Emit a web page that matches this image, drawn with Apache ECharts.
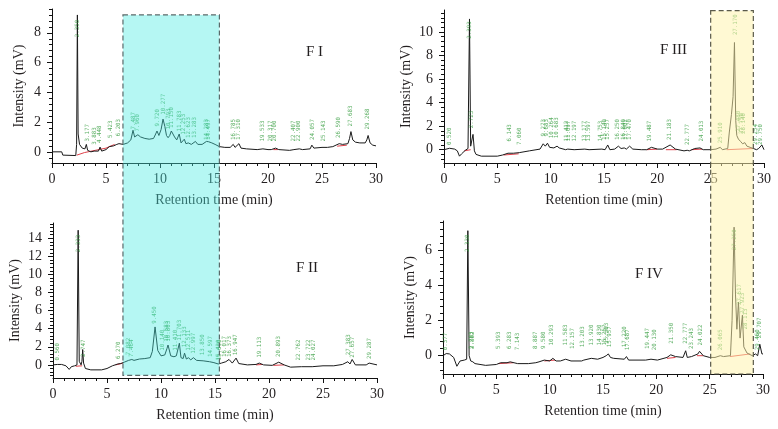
<!DOCTYPE html>
<html><head><meta charset="utf-8">
<script src="https://cdn.jsdelivr.net/npm/echarts@6/dist/echarts.min.js"></script>
<style>html,body{margin:0;padding:0;background:#fff}#c{width:778px;height:429px}</style>
</head><body><div id="c"></div><script>
// ---------------- data (retention time min, intensity mV) ----------------
const traceF1 = [[0,0],[0.9,0],[1.0,-0.22],[2.2,-0.25],[2.28,0.5],[2.35,9.2],[2.42,1.2],[2.55,0.5],[2.8,0.25],[3.05,0.2],[3.18,0.5],[3.3,0.1],[3.6,0.0],[3.9,0.05],[4.3,0.05],[4.45,0.32],[4.6,0.05],[5.0,0.15],[5.3,0.35],[5.45,0.45],[5.7,0.4],[6.0,0.5],[6.2,0.55],[6.6,0.5],[7.0,0.6],[7.3,0.8],[7.5,1.45],[7.65,1.0],[7.95,1.15],[8.2,1.0],[8.6,0.9],[9.0,0.85],[9.4,0.9],[9.6,1.2],[9.72,1.4],[9.9,1.1],[10.1,1.5],[10.28,2.2],[10.45,1.7],[10.6,1.1],[10.75,0.95],[10.9,1.1],[11.05,1.4],[11.15,1.45],[11.35,1.0],[11.55,0.8],[11.78,1.2],[11.95,0.6],[12.1,0.65],[12.25,0.85],[12.4,0.55],[12.62,0.6],[12.9,0.5],[13.28,0.7],[13.5,0.5],[13.9,0.5],[14.3,0.7],[14.5,0.68],[14.8,0.6],[15.1,0.5],[15.5,0.35],[16.0,0.3],[16.5,0.3],[16.78,0.5],[16.95,0.3],[17.1,0.3],[17.31,0.55],[17.5,0.25],[18.0,0.2],[19.0,0.15],[19.53,0.2],[20.0,0.15],[20.3,0.15],[20.7,0.25],[21.0,0.15],[22.0,0.1],[22.4,0.15],[22.9,0.2],[23.2,0.15],[23.9,0.2],[24.06,0.45],[24.25,0.25],[25.0,0.3],[25.14,0.35],[25.5,0.3],[26.0,0.35],[26.59,0.55],[26.9,0.5],[27.4,0.55],[27.55,0.9],[27.68,1.36],[27.85,0.8],[28.1,0.65],[28.5,0.6],[29.0,0.6],[29.15,0.8],[29.27,1.1],[29.45,0.6],[29.7,0.45],[30,0.4]];
const traceF2 = [[0,0],[0.4,0.05],[0.56,0.2],[0.8,0.05],[1.2,-0.1],[1.5,-0.5],[1.7,-0.2],[2.0,-0.1],[2.22,0.0],[2.33,14.9],[2.43,0.4],[2.6,0.0],[2.68,0.4],[2.75,1.7],[2.83,0.2],[3.0,-0.4],[3.5,-0.55],[4.5,-0.55],[5.0,-0.4],[5.5,-0.1],[6.0,0.1],[6.27,0.15],[6.6,0.3],[7.0,0.5],[7.3,0.6],[7.5,0.5],[8.0,0.65],[8.5,0.7],[9.0,0.8],[9.2,1.5],[9.45,4.2],[9.7,1.6],[10.0,1.0],[10.15,1.2],[10.35,1.1],[10.55,1.8],[10.65,2.2],[10.9,1.0],[11.2,0.9],[11.42,1.0],[11.6,1.2],[11.7,2.4],[11.85,0.8],[12.05,0.7],[12.18,1.3],[12.35,0.65],[12.55,0.8],[12.75,0.55],[13.0,0.8],[13.3,0.5],[13.9,0.45],[14.5,0.35],[14.9,0.25],[15.3,0.1],[15.6,0.2],[16.0,0.35],[16.3,0.6],[16.6,0.2],[16.95,0.75],[17.2,0.15],[18.0,0.0],[18.8,0.05],[19.1,0.2],[19.5,0.0],[20.3,-0.05],[20.9,0.3],[21.4,0.0],[22.0,-0.25],[23.0,-0.2],[24.0,-0.2],[25.0,-0.1],[26.0,-0.1],[26.8,0.05],[27.3,0.35],[27.5,0.1],[27.7,0.6],[28.0,0.0],[29.0,0.0],[29.27,0.2],[29.45,0.0],[30,0.0]];
const traceF3 = [[0,0],[0.52,0.12],[1.0,0.05],[1.25,-0.1],[1.45,-0.55],[1.65,-0.35],[2.0,-0.05],[2.25,0.1],[2.39,11.1],[2.5,0.3],[2.62,0.15],[2.72,1.3],[2.85,-0.1],[3.0,-0.4],[3.5,-0.55],[5.0,-0.55],[5.5,-0.45],[6.0,-0.3],[6.14,-0.2],[6.5,-0.3],[7.06,-0.25],[8.0,-0.1],[9.0,0.05],[9.3,0.5],[9.5,0.3],[9.7,0.55],[9.9,0.2],[10.3,0.15],[10.6,0.3],[10.8,0.15],[11.4,0.0],[11.6,0.05],[12.2,0.0],[13.2,0.05],[13.6,0.0],[14.8,0.05],[15.1,0.0],[15.35,0.4],[15.55,0.0],[16.0,0.05],[16.35,0.3],[16.6,0.1],[16.9,0.15],[17.1,0.05],[17.4,0.3],[17.7,0.05],[18.5,0.0],[19.0,0.0],[19.45,0.2],[20.0,0.05],[20.5,0.05],[21.2,0.4],[21.7,0.05],[22.5,-0.1],[22.8,-0.05],[23.0,-0.1],[23.5,0.1],[24.0,0.15],[24.3,0.0],[25.0,0.0],[25.5,0.05],[25.9,0.2],[26.1,0.0],[26.6,0.1],[26.75,1.5],[26.95,3.0],[27.1,4.5],[27.23,9.1],[27.35,2.5],[27.45,1.2],[27.6,0.9],[27.8,0.7],[28.0,0.5],[28.2,0.6],[28.4,0.3],[28.7,0.2],[29.0,0.1],[29.3,0.0],[29.5,0.1],[29.8,0.4],[30,0.0]];
const traceF4 = [[0,0],[0.3,0.12],[0.6,0.1],[1.0,-0.1],[1.3,-0.6],[1.6,-0.3],[2.0,-0.25],[2.22,-0.2],[2.33,7.1],[2.45,0.0],[2.6,-0.3],[2.8,-0.35],[3.0,-0.45],[4.0,-0.55],[5.0,-0.5],[5.4,-0.4],[6.0,-0.4],[6.3,-0.35],[7.0,-0.45],[7.14,-0.4],[8.0,-0.45],[8.7,-0.4],[9.0,-0.35],[9.5,-0.25],[10.0,-0.3],[10.3,-0.15],[10.6,-0.3],[11.0,-0.3],[11.5,-0.2],[12.0,-0.3],[13.0,-0.3],[13.2,-0.25],[13.9,-0.15],[14.5,-0.2],[15.0,-0.1],[15.3,0.0],[15.5,0.1],[15.7,-0.1],[16.0,-0.15],[17.0,-0.2],[17.2,-0.05],[17.4,-0.25],[18.0,-0.25],[19.0,-0.25],[19.5,-0.2],[20.1,-0.25],[21.0,-0.1],[21.35,0.05],[21.8,-0.05],[22.5,-0.1],[22.75,0.28],[22.9,-0.1],[23.3,-0.05],[23.9,0.1],[24.05,0.25],[24.4,0.0],[25.0,-0.1],[25.5,-0.1],[26.0,0.0],[26.3,-0.05],[26.95,0.0],[27.1,2.0],[27.29,7.3],[27.42,3.5],[27.55,1.5],[27.7,3.05],[27.85,1.0],[28.07,2.3],[28.2,0.5],[28.5,0.15],[29.0,0.0],[29.3,0.1],[29.5,0.0],[29.7,0.65],[29.9,0.1],[30,0.1]];

// integration baselines (red segments)
const baseF1 = [[[2.3,-0.22],[3.0,-0.05],[4.0,0.1],[5.0,0.25],[5.8,0.5]],[[20.5,0.15],[20.9,0.15]],[[26.4,0.38],[27.3,0.45]]];
const baseF2 = [[[2.1,-0.15],[2.7,-0.1]],[[5.8,0.0],[6.5,0.2]],[[18.8,0.0],[19.4,0.05]],[[20.4,-0.05],[21.4,0.0]]];
const baseF3 = [[[1.9,-0.1],[2.5,0.0]],[[5.6,-0.45],[7.0,-0.35]],[[19.0,0.0],[20.0,0.05]],[[20.8,0.0],[21.8,0.0]],[[23.2,0.0],[24.2,0.05]],[[26.5,0.0],[29.0,0.1]]];
const baseF4 = [[[5.2,-0.45],[6.6,-0.4]],[[9.5,-0.3],[10.5,-0.25]],[[21.0,-0.15],[21.8,-0.1]],[[23.8,0.0],[24.4,0.0]],[[26.9,-0.05],[28.8,0.1]]];

// peak annotations: [retention time, label base height, text]
const peaksF1 = [[2.35,7.6,'2.350'],[3.25,0.6,'3.177'],[3.9,0.38,'3.883'],[4.4,0.49,'4.448'],[5.4,0.83,'5.423'],[6.2,0.94,'6.203'],[7.5,1.4,'7.487'],[7.9,1.27,'7.960'],[9.75,1.6,'9.720'],[10.3,2.4,'10.277'],[10.75,1.4,'10.793'],[11.1,1.5,'11.150'],[11.8,1.27,'11.783'],[12.2,1.05,'12.253'],[12.6,0.83,'12.623'],[13.15,0.83,'13.283'],[14.3,0.7,'14.283'],[14.5,0.7,'14.497'],[16.8,0.7,'16.785'],[17.3,0.7,'17.310'],[19.5,0.6,'19.533'],[20.2,0.6,'20.317'],[20.6,0.6,'20.700'],[22.4,0.6,'22.407'],[22.8,0.6,'22.900'],[24.1,0.7,'24.057'],[25.1,0.6,'25.143'],[26.5,0.83,'26.590'],[27.6,1.6,'27.683'],[29.2,1.4,'29.268']];
const peaksF2 = [[0.46,0.33,'0.560'],[2.33,12.3,'2.333'],[2.8,0.7,'2.747'],[6.1,0.5,'6.270'],[7.0,0.9,'7.082'],[7.3,0.7,'7.464'],[9.4,4.4,'9.450'],[10.1,1.4,'10.140'],[10.5,2.4,'10.583'],[10.7,2.4,'10.803'],[11.35,1.4,'11.410'],[11.75,2.5,'11.703'],[12.15,1.8,'12.133'],[12.5,1.4,'12.511'],[13.0,1.07,'12.997'],[13.8,0.9,'13.850'],[14.6,0.7,'14.597'],[15.35,0.33,'15.420'],[15.45,0.33,'15.690'],[15.9,0.7,'16.017'],[16.3,0.7,'16.373'],[16.9,0.9,'16.947'],[19.1,0.63,'19.113'],[20.9,0.7,'20.893'],[22.7,0.33,'22.762'],[23.7,0.33,'23.722'],[24.1,0.33,'24.027'],[27.4,0.9,'27.383'],[27.75,0.63,'27.657'],[29.3,0.5,'29.287']];
const peaksF3 = [[0.5,0.28,'0.520'],[2.39,9.3,'2.393'],[2.6,1.7,'2.723'],[6.1,0.56,'6.143'],[7.1,0.28,'7.060'],[9.3,1.0,'9.273'],[9.6,1.0,'9.683'],[10.1,0.85,'10.264'],[10.5,0.85,'10.683'],[11.5,0.56,'11.412'],[11.7,0.56,'11.697'],[12.2,0.56,'12.197'],[13.2,0.56,'13.177'],[13.5,0.56,'13.597'],[14.7,0.56,'14.753'],[15.0,0.7,'15.140'],[15.3,0.7,'15.257'],[16.3,0.7,'16.250'],[16.8,0.7,'16.840'],[17.0,0.7,'17.002'],[17.4,0.7,'17.470'],[19.3,0.56,'19.487'],[21.1,0.7,'21.183'],[22.8,0.28,'22.777'],[24.1,0.56,'24.013'],[25.9,0.42,'25.910'],[27.3,9.6,'27.170'],[27.6,1.4,'27.480'],[27.85,1.2,'27.750'],[28.1,1.2,'28.140'],[29.2,0.28,'29.254'],[29.65,0.28,'29.750']];
const peaksF4 = [[0.2,0.23,'0.377'],[2.33,5.8,'2.330'],[2.7,0.3,'2.783'],[2.8,0.3,'2.882'],[5.2,0.3,'5.393'],[6.2,0.3,'6.283'],[7.0,0.23,'7.143'],[8.7,0.3,'8.887'],[9.4,0.3,'9.580'],[10.2,0.5,'10.293'],[11.5,0.5,'11.583'],[12.1,0.3,'12.157'],[13.1,0.4,'13.203'],[13.9,0.5,'13.920'],[14.7,0.5,'14.830'],[15.1,0.5,'15.257'],[15.3,0.6,'15.383'],[15.6,0.4,'15.957'],[17.0,0.4,'17.220'],[17.3,0.23,'17.687'],[19.2,0.3,'19.447'],[19.8,0.23,'20.130'],[21.4,0.6,'21.350'],[22.7,0.6,'22.777'],[23.3,0.3,'23.243'],[24.1,0.5,'24.022'],[26.0,0.23,'26.065'],[27.3,5.9,'27.250'],[27.8,2.8,'27.617'],[28.05,2.3,'27.923'],[28.35,1.4,'28.113'],[29.45,0.23,'29.460'],[29.7,0.9,'29.707']];

// axis tick labels
const xTicks = [0,5,10,15,20,25,30];
const yTicksF1 = [0,2,4,6,8];
const yTicksF2 = [0,2,4,6,8,10,12,14];
const yTicksF3 = [0,2,4,6,8,10];
const yTicksF4 = [0,2,4,6];

// highlighted windows (retention time ranges)
const cyanWindow = [6.57, 15.5];
const yellowWindow = [25.0, 29.0];

// ---------------- layout ----------------
const panels = [
  {label:'F I',  trace:traceF1, base:baseF1, peaks:peaksF1, yTicks:yTicksF1, yMin:-0.75, yMax:9.6,  grid:{left:52, top:9,   width:324, height:154}, nameGap:26, title:{left:306, top:45}},
  {label:'F II', trace:traceF2, base:baseF2, peaks:peaksF2, yTicks:yTicksF2, yMin:-1.45, yMax:15.7, grid:{left:53, top:223, width:324, height:155}, nameGap:31, title:{left:296, top:261}},
  {label:'F III',trace:traceF3, base:baseF3, peaks:peaksF3, yTicks:yTicksF3, yMin:-1.13, yMax:11.86,grid:{left:444,top:10,  width:320, height:153}, nameGap:31, title:{left:660, top:43}},
  {label:'F IV', trace:traceF4, base:baseF4, peaks:peaksF4, yTicks:yTicksF4, yMin:-1.04, yMax:7.65, grid:{left:443,top:221, width:320, height:153}, nameGap:26, title:{left:635, top:267}}
];
const SERIF = '"Liberation Serif","DejaVu Serif",serif';
const TXT = '#231f20';
const MINOR_STEP = 0.4;

function minorValues(lo, hi, majors) {
  const out = [];
  for (let k = Math.ceil(lo / MINOR_STEP - 1e-9); k * MINOR_STEP <= hi + 1e-9; k++) {
    const v = +(k * MINOR_STEP).toFixed(4);
    if (!majors.some(m => Math.abs(m - v) < 1e-6)) out.push(v);
  }
  return out;
}

const option = {animation:false, backgroundColor:'#fff', grid:[], xAxis:[], yAxis:[], series:[], title:[]};
panels.forEach((p, i) => {
  option.grid.push(Object.assign({containLabel:false}, p.grid));
  option.title.push({text:p.label, left:p.title.left, top:p.title.top, padding:0,
    textStyle:{fontFamily:SERIF, fontSize:15, fontWeight:'normal', color:TXT}});
  option.xAxis.push({type:'value', gridIndex:i, min:xTicks[0], max:xTicks[xTicks.length-1], interval:xTicks[1]-xTicks[0],
    name:'Retention time (min)', nameLocation:'middle', nameGap:30,
    nameTextStyle:{fontFamily:SERIF, fontSize:14, color:TXT},
    axisLine:{show:true, onZero:false, lineStyle:{color:'#111', width:1}},
    axisTick:{show:true, inside:false, length:5, lineStyle:{color:'#111'}},
    minorTick:{show:true, splitNumber:5, length:3, lineStyle:{color:'#111'}},
    axisLabel:{fontFamily:SERIF, fontSize:14, color:TXT, margin:9},
    splitLine:{show:false}, minorSplitLine:{show:false}});
  option.yAxis.push({type:'value', gridIndex:i, min:p.yMin, max:p.yMax,
    name:'Intensity (mV)', nameLocation:'middle', nameGap:p.nameGap,
    nameTextStyle:{fontFamily:SERIF, fontSize:14, color:TXT},
    axisLine:{show:true, onZero:false, lineStyle:{color:'#111', width:1}},
    axisTick:{show:true, length:5, lineStyle:{color:'#111'}, customValues:p.yTicks},
    axisLabel:{fontFamily:SERIF, fontSize:14, color:TXT, margin:11, customValues:p.yTicks},
    splitLine:{show:false}});
  option.yAxis.push({type:'value', gridIndex:i, min:p.yMin, max:p.yMax, position:'left',
    axisLine:{show:false}, axisLabel:{show:false}, splitLine:{show:false},
    axisTick:{show:true, length:3, lineStyle:{color:'#111'}, customValues:minorValues(p.yMin, p.yMax, p.yTicks)}});
  const baseData = [];
  p.base.forEach((seg, k) => { if (k) baseData.push(['-','-']); seg.forEach(pt => baseData.push(pt)); });
  option.series.push({type:'line', xAxisIndex:i, yAxisIndex:2*i, data:baseData, symbol:'none', z:2,
    lineStyle:{color:'#e0404a', width:1}, connectNulls:false, silent:true});
  option.series.push({type:'line', xAxisIndex:i, yAxisIndex:2*i, data:p.trace, symbol:'none', z:3,
    lineStyle:{color:'#1a1a1a', width:1}, silent:true});
  option.series.push({type:'scatter', xAxisIndex:i, yAxisIndex:2*i, z:4, silent:true,
    data:p.peaks.map(d => ({value:[d[0], d[1]], name:d[2]})),
    symbolSize:1, itemStyle:{color:'rgba(0,0,0,0)'},
    label:{show:true, position:'top', distance:1, rotate:90, align:'left', verticalAlign:'middle',
      formatter:q => q.name, fontFamily:'"DejaVu Sans Mono",monospace', fontSize:5.8, color:'#2f9a3a'}});
});

const chart = echarts.init(document.getElementById('c'), null, {renderer:'canvas'});
chart.setOption(option);

// overlay windows spanning two stacked panels
const px = (i, v) => chart.convertToPixel({xAxisIndex:i, yAxisIndex:2*i}, v);
const c1 = px(0, [cyanWindow[0], 9.2]), c2 = px(0, [cyanWindow[1], 0]), c3 = px(1, [0, -1.15]);
const y1 = px(2, [yellowWindow[0], 11.8]), y2 = px(2, [yellowWindow[1], 0]), y3 = px(3, [0, panels[3].yMin]);
chart.setOption({graphic:[
  {type:'rect', z:100, silent:true, shape:{x:c1[0], y:c1[1], width:c2[0]-c1[0], height:c3[1]-c1[1]},
   style:{fill:'rgba(70,236,226,0.40)', stroke:'#5a6a6a', lineWidth:1.2, lineDash:[5,3]}},
  {type:'rect', z:100, silent:true, shape:{x:y1[0], y:y1[1], width:y2[0]-y1[0], height:y3[1]-y1[1]},
   style:{fill:'rgba(255,244,170,0.52)', stroke:'#5a5a4a', lineWidth:1.2, lineDash:[5,3]}}
]});
</script></body></html>
